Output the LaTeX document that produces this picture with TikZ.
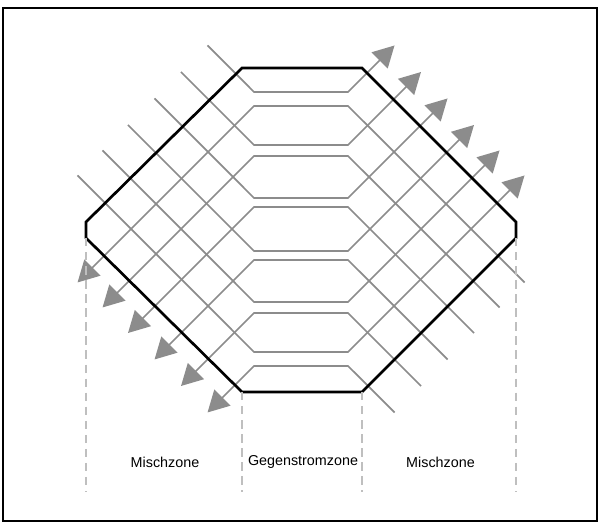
\documentclass[tikz,border=0pt]{standalone}
\usepackage{fontspec}
\setmainfont{Liberation Sans}
\usetikzlibrary{arrows.meta}

\begin{document}
\begin{tikzpicture}[font=\fontsize{10.2pt}{12pt}\selectfont,
  wall/.style={draw=gray!90, line width=1.25pt},
  flow/.style={wall, -{Triangle[length=15pt, width=16pt]}},
  plate/.style={draw=black, line width=1.9pt},
  zone/.style={draw=black!25, line width=0.8pt, dash pattern=on 6pt off 4pt},
  zonelabel/.style={text=black}]
  \useasboundingbox (0,0) rectangle (15,13.125);
  \draw[line width=1.3pt] (0.075,0.1) rectangle (14.925,12.925);

  % Stream 1: in at upper left, out at upper right
  \draw[flow] (5.188,11.988) -- (6.35,10.825) -- (8.7,10.825) -- (9.863,11.988);
  \draw[flow] (4.525,11.325) -- (6.35,9.5) -- (8.7,9.5) -- (10.525,11.325);
  \draw[flow] (3.863,10.663) -- (6.35,8.175) -- (8.7,8.175) -- (11.188,10.663);
  \draw[flow] (3.2,10.0) -- (6.35,6.85) -- (8.7,6.85) -- (11.85,10.0);
  \draw[flow] (2.563,9.363) -- (6.35,5.575) -- (8.7,5.575) -- (12.488,9.363);
  \draw[flow] (1.938,8.738) -- (6.35,4.325) -- (8.7,4.325) -- (13.113,8.738);

  % Stream 2: in at lower right, out at lower left
  \draw[flow] (9.863,2.813) -- (8.7,3.975) -- (6.35,3.975) -- (5.188,2.813);
  \draw[flow] (10.525,3.475) -- (8.7,5.3) -- (6.35,5.3) -- (4.525,3.475);
  \draw[flow] (11.188,4.138) -- (8.7,6.625) -- (6.35,6.625) -- (3.863,4.138);
  \draw[flow] (11.85,4.8) -- (8.7,7.95) -- (6.35,7.95) -- (3.2,4.8);
  \draw[flow] (12.488,5.438) -- (8.7,9.225) -- (6.35,9.225) -- (2.563,5.438);
  \draw[flow] (13.113,6.063) -- (8.7,10.475) -- (6.35,10.475) -- (1.938,6.063);

  % Housing
  \draw[plate] (6.05,11.425) -- (9.05,11.425) -- (12.9,7.575)
    -- (12.9,7.175) coordinate (hexE) -- (9.05,3.325) coordinate (hexSE)
    -- (6.05,3.325) coordinate (hexSW) -- (2.15,7.175) coordinate (hexW)
    -- (2.15,7.575) -- cycle;

  % Zones
  \draw[zone] (hexW) -- (hexW |- 0,0.825);
  \draw[zone] (hexSW) -- (hexSW |- 0,0.825);
  \draw[zone] (hexSE) -- (hexSE |- 0,0.825);
  \draw[zone] (hexE) -- (hexE |- 0,0.825);
  \node[zonelabel] (mixL) at (4.125,1.575) {Mischzone};
  \node[zonelabel] (counter) at (7.575,1.575) {Gegenstromzone};
  \node[zonelabel] (mixR) at (11.0125,1.575) {Mischzone};
\end{tikzpicture}
\end{document}
